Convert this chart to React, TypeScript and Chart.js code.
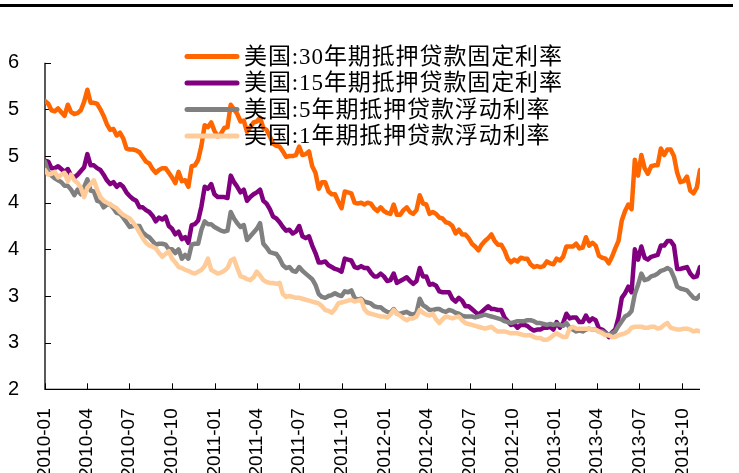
import { useEffect, useRef } from 'react';
import { Chart, registerables } from 'chart.js';

Chart.register(...registerables);

// Weekly observations, first week 2010-01-07, one value per week through 2013-11-14
const startDate = [2010, 1, 7];

const rate30 = [
  5.09, 5.06, 4.99, 4.98, 5.01, 4.97, 4.93, 5.05, 4.97, 4.95, 4.96, 4.99, 5.08, 5.21, 5.07, 5.07, 5.06, 5.00, 4.93, 4.84, 4.78, 4.79, 4.72, 4.75, 4.69, 4.58,
  4.57, 4.57, 4.56, 4.54, 4.49, 4.44, 4.42, 4.36, 4.32, 4.35, 4.37, 4.37, 4.32, 4.27, 4.21, 4.33, 4.23, 4.24, 4.17, 4.39, 4.40, 4.46, 4.61, 4.83, 4.81, 4.86,
  4.77, 4.71, 4.74, 4.80, 4.81, 5.05, 5.00, 4.95, 4.87, 4.88, 4.76, 4.81, 4.86, 4.87, 4.91, 4.80, 4.78, 4.71, 4.63, 4.61, 4.60, 4.55, 4.49, 4.50, 4.50, 4.51,
  4.60, 4.51, 4.52, 4.55, 4.39, 4.32, 4.15, 4.22, 4.22, 4.12, 4.09, 4.09, 4.01, 3.94, 4.12, 4.11, 4.10, 4.00, 3.99, 4.00, 3.98, 4.00, 3.99, 3.94, 3.91, 3.95,
  3.91, 3.89, 3.88, 3.98, 3.87, 3.87, 3.92, 3.95, 3.90, 3.88, 3.92, 4.08, 3.99, 3.98, 3.88, 3.90, 3.88, 3.84, 3.83, 3.79, 3.78, 3.75, 3.67, 3.71, 3.66, 3.66,
  3.62, 3.56, 3.53, 3.49, 3.55, 3.59, 3.62, 3.66, 3.59, 3.55, 3.55, 3.49, 3.40, 3.36, 3.39, 3.37, 3.41, 3.40, 3.40, 3.34, 3.31, 3.32, 3.31, 3.32, 3.37, 3.35,
  3.34, 3.40, 3.38, 3.42, 3.53, 3.53, 3.53, 3.56, 3.51, 3.52, 3.63, 3.54, 3.57, 3.54, 3.43, 3.41, 3.40, 3.35, 3.42, 3.51, 3.59, 3.81, 3.91, 3.98, 3.93, 4.46,
  4.29, 4.51, 4.37, 4.31, 4.39, 4.40, 4.40, 4.58, 4.51, 4.57, 4.57, 4.50, 4.32, 4.22, 4.23, 4.28, 4.13, 4.10, 4.16, 4.35,
];

const rate15 = [
  4.45, 4.44, 4.37, 4.37, 4.39, 4.36, 4.33, 4.36, 4.29, 4.27, 4.30, 4.34, 4.38, 4.52, 4.40, 4.40, 4.37, 4.35, 4.30, 4.24, 4.20, 4.22, 4.17, 4.20, 4.17, 4.11,
  4.07, 4.04, 4.02, 3.95, 3.95, 3.92, 3.90, 3.86, 3.80, 3.84, 3.82, 3.85, 3.75, 3.72, 3.66, 3.69, 3.61, 3.63, 3.57, 3.76, 3.77, 3.81, 3.96, 4.17, 4.15, 4.20,
  4.09, 4.06, 4.06, 4.06, 4.05, 4.29, 4.22, 4.17, 4.11, 4.14, 4.02, 4.06, 4.09, 4.11, 4.14, 4.02, 3.99, 3.93, 3.85, 3.83, 3.79, 3.74, 3.70, 3.71, 3.67, 3.69,
  3.75, 3.64, 3.62, 3.64, 3.54, 3.46, 3.36, 3.36, 3.37, 3.33, 3.31, 3.29, 3.28, 3.26, 3.40, 3.39, 3.38, 3.31, 3.30, 3.32, 3.30, 3.30, 3.25, 3.21, 3.21, 3.24,
  3.21, 3.16, 3.17, 3.24, 3.14, 3.16, 3.18, 3.20, 3.16, 3.13, 3.16, 3.30, 3.21, 3.21, 3.12, 3.13, 3.11, 3.05, 3.04, 3.04, 3.04, 2.97, 2.94, 2.98, 2.95, 2.89,
  2.89, 2.86, 2.83, 2.80, 2.83, 2.86, 2.89, 2.86, 2.86, 2.85, 2.85, 2.77, 2.73, 2.69, 2.70, 2.66, 2.69, 2.69, 2.68, 2.65, 2.63, 2.64, 2.64, 2.66, 2.66, 2.67,
  2.64, 2.72, 2.66, 2.71, 2.81, 2.76, 2.77, 2.77, 2.72, 2.72, 2.79, 2.73, 2.76, 2.74, 2.65, 2.64, 2.61, 2.56, 2.61, 2.64, 2.77, 2.98, 3.03, 3.10, 3.04, 3.50,
  3.39, 3.53, 3.41, 3.39, 3.42, 3.43, 3.44, 3.54, 3.54, 3.59, 3.59, 3.54, 3.29, 3.29, 3.30, 3.31, 3.24, 3.20, 3.21, 3.31,
];

const arm5 = [
  4.44, 4.33, 4.29, 4.26, 4.24, 4.22, 4.18, 4.18, 4.14, 4.08, 4.14, 4.09, 4.17, 4.25, 4.13, 4.12, 4.02, 4.01, 3.95, 3.98, 3.98, 3.94, 3.89, 3.88, 3.84, 3.79,
  3.74, 3.75, 3.75, 3.75, 3.68, 3.65, 3.63, 3.59, 3.55, 3.56, 3.56, 3.55, 3.50, 3.50, 3.46, 3.50, 3.40, 3.44, 3.40, 3.55, 3.56, 3.56, 3.71, 3.80, 3.77, 3.77,
  3.74, 3.72, 3.70, 3.69, 3.70, 3.90, 3.83, 3.78, 3.74, 3.76, 3.60, 3.64, 3.68, 3.72, 3.78, 3.56, 3.52, 3.47, 3.46, 3.45, 3.40, 3.33, 3.30, 3.31, 3.27, 3.26,
  3.31, 3.27, 3.24, 3.21, 3.18, 3.12, 3.02, 2.99, 2.98, 3.00, 3.01, 3.03, 3.01, 3.00, 3.05, 3.04, 3.06, 2.98, 2.96, 2.97, 2.94, 2.93, 2.92, 2.89, 2.88, 2.88,
  2.85, 2.83, 2.82, 2.86, 2.81, 2.81, 2.82, 2.83, 2.81, 2.80, 2.82, 2.97, 2.90, 2.88, 2.85, 2.85, 2.86, 2.86, 2.84, 2.83, 2.85, 2.84, 2.82, 2.81, 2.79, 2.78,
  2.78, 2.78, 2.77, 2.78, 2.79, 2.80, 2.79, 2.78, 2.77, 2.76, 2.75, 2.73, 2.72, 2.71, 2.72, 2.73, 2.73, 2.73, 2.74, 2.74, 2.73, 2.71, 2.71, 2.70, 2.69, 2.70,
  2.69, 2.70, 2.69, 2.68, 2.71, 2.66, 2.64, 2.62, 2.63, 2.62, 2.64, 2.65, 2.64, 2.64, 2.62, 2.62, 2.60, 2.58, 2.60, 2.62, 2.68, 2.73, 2.78, 2.80, 2.84, 3.02,
  3.12, 3.24, 3.17, 3.18, 3.21, 3.22, 3.24, 3.27, 3.28, 3.30, 3.28, 3.20, 3.10, 3.08, 3.07, 3.06, 3.02, 2.98, 2.97, 3.01,
];

const arm1 = [
  4.35, 4.30, 4.31, 4.33, 4.27, 4.30, 4.32, 4.23, 4.30, 4.24, 4.21, 4.16, 4.06, 4.16, 4.20, 4.24, 4.14, 4.06, 4.02, 4.00, 3.98, 3.96, 3.94, 3.90, 3.87, 3.85,
  3.83, 3.79, 3.74, 3.68, 3.62, 3.57, 3.54, 3.53, 3.51, 3.46, 3.42, 3.45, 3.48, 3.40, 3.36, 3.31, 3.30, 3.28, 3.27, 3.25, 3.24, 3.26, 3.28, 3.32, 3.40, 3.28,
  3.26, 3.24, 3.25, 3.27, 3.30, 3.38, 3.40, 3.30, 3.21, 3.20, 3.18, 3.17, 3.20, 3.26, 3.22, 3.17, 3.15, 3.14, 3.14, 3.13, 3.14, 3.02, 2.99, 3.00, 2.99, 2.98,
  2.98, 2.97, 2.96, 2.95, 2.94, 2.93, 2.92, 2.89, 2.85, 2.84, 2.82, 2.86, 2.92, 2.93, 2.94, 2.95, 2.96, 2.94, 2.95, 2.96, 2.86, 2.82, 2.81, 2.80, 2.79, 2.78,
  2.78, 2.77, 2.80, 2.85, 2.81, 2.79, 2.76, 2.74, 2.76, 2.76, 2.78, 2.85, 2.82, 2.80, 2.79, 2.81, 2.75, 2.71, 2.75, 2.78, 2.77, 2.76, 2.77, 2.78, 2.74, 2.71,
  2.70, 2.69, 2.68, 2.67, 2.66, 2.65, 2.66, 2.67, 2.64, 2.62, 2.62, 2.62, 2.61, 2.60, 2.60, 2.60, 2.59, 2.58, 2.58, 2.58, 2.56, 2.55, 2.55, 2.53, 2.53, 2.55,
  2.58, 2.60, 2.58, 2.56, 2.56, 2.65, 2.67, 2.65, 2.65, 2.65, 2.65, 2.65, 2.64, 2.64, 2.62, 2.60, 2.58, 2.58, 2.56, 2.56, 2.58, 2.59, 2.60, 2.62, 2.66, 2.67,
  2.67, 2.67, 2.66, 2.66, 2.67, 2.67, 2.65, 2.66, 2.69, 2.71, 2.66, 2.65, 2.64, 2.64, 2.65, 2.65, 2.64, 2.62, 2.63, 2.62,
];

const seriesNames = [
  '美国:30年期抵押贷款固定利率',
  '美国:15年期抵押贷款固定利率',
  '美国:5年期抵押贷款浮动利率',
  '美国:1年期抵押贷款浮动利率',
];
const seriesColors = ['#FF6600', '#800080', '#808080', '#FFCC99'];

const xTickLabels = [
  '2010-01', '2010-04', '2010-07', '2010-10',
  '2011-01', '2011-04', '2011-07', '2011-10',
  '2012-01', '2012-04', '2012-07', '2012-10',
  '2013-01', '2013-04', '2013-07', '2013-10',
];
const yMin = 2;
const yMax = 5.5;
const yStep = 0.5;

const DAY = 86400000;
const startMs = Date.UTC(startDate[0], startDate[1] - 1, startDate[2]);
const tickDays = xTickLabels.map((lab) => {
  const [yy, mm] = lab.split('-').map(Number);
  return Math.round((Date.UTC(yy, mm - 1, startDate[2]) - startMs) / DAY);
});

const W = 739;
const H = 480;
const AXIS_LEFT = 45;
const AXIS_BOTTOM = 389.3;
const PLOT_TOP = 62.7;
const PLOT_RIGHT = 700;

const decorPlugin = {
  id: 'decor',
  beforeDatasetsDraw(chart: any) {
    const { ctx, chartArea, scales } = chart;
    ctx.save();
    ctx.strokeStyle = '#000';
    ctx.lineWidth = 1.3;
    ctx.beginPath();
    ctx.moveTo(chartArea.left, chartArea.top);
    ctx.lineTo(chartArea.left, chartArea.bottom);
    ctx.lineTo(chartArea.right, chartArea.bottom);
    ctx.stroke();
    ctx.lineWidth = 1;
    ctx.beginPath();
    scales.y.ticks.forEach((t: any) => {
      const y = Math.round(scales.y.getPixelForValue(t.value)) + 0.5;
      ctx.moveTo(chartArea.left, y);
      ctx.lineTo(chartArea.left + 6, y);
    });
    scales.x.ticks.forEach((t: any) => {
      const x = Math.round(scales.x.getPixelForValue(t.value)) + 0.5;
      ctx.moveTo(x, chartArea.bottom);
      ctx.lineTo(x, chartArea.bottom - 6);
    });
    ctx.stroke();
    ctx.restore();
  },
  afterDraw(chart: any) {
    const { ctx } = chart;
    ctx.save();
    const rowY = [56.5, 83, 109.5, 136];
    seriesNames.forEach((name, i) => {
      const y = rowY[i];
      ctx.strokeStyle = seriesColors[i];
      ctx.lineWidth = 5;
      ctx.lineCap = 'round';
      ctx.beginPath();
      ctx.moveTo(187, y);
      ctx.lineTo(237, y);
      ctx.stroke();
      ctx.fillStyle = '#000';
      ctx.font = '23px "Liberation Serif", "Noto Sans CJK SC", serif';
      (ctx as any).letterSpacing = '0.9px';
      ctx.textBaseline = 'middle';
      ctx.textAlign = 'left';
      ctx.fillText(name, 244, y + 1);
    });
    ctx.restore();
  },
};

export default function App() {
  const canvasRef = useRef<HTMLCanvasElement | null>(null);

  useEffect(() => {
    document.body.style.margin = '0';
    const canvas = canvasRef.current;
    if (!canvas) return;
    const allSeries = [rate30, rate15, arm5, arm1];
    const lastDay = (rate30.length - 1) * 7;
    const chart = new Chart(canvas, {
      type: 'line',
      data: {
        datasets: allSeries.map((vals, k) => ({
          label: seriesNames[k],
          data: vals.map((v, i) => ({ x: i * 7, y: v })),
          borderColor: seriesColors[k],
          backgroundColor: seriesColors[k],
          borderWidth: 4.5,
          pointRadius: 0,
          pointHoverRadius: 0,
          tension: 0,
          borderJoinStyle: 'round',
          borderCapStyle: 'round',
          fill: false,
          order: 3 - k,
        })),
      },
      options: {
        animation: false,
        responsive: false,
        devicePixelRatio: window.devicePixelRatio || 1,
        layout: { padding: { left: 0, right: W - PLOT_RIGHT, top: PLOT_TOP, bottom: 0 } },
        plugins: {
          legend: { display: false },
          tooltip: { enabled: false },
        },
        scales: {
          x: {
            type: 'linear',
            min: 0,
            max: lastDay,
            grid: { display: false },
            border: { display: false },
            afterBuildTicks: (axis: any) => {
              axis.ticks = tickDays.map((v) => ({ value: v }));
            },
            afterFit: (axis: any) => {
              axis.height = H - AXIS_BOTTOM;
            },
            ticks: {
              autoSkip: false,
              minRotation: 90,
              maxRotation: 90,
              padding: 11,
              color: '#000',
              font: { family: '"Liberation Sans", Arial, sans-serif', size: 19 },
              callback: (value: any) => {
                const idx = tickDays.indexOf(Number(value));
                return idx >= 0 ? xTickLabels[idx] : '';
              },
            },
          },
          y: {
            type: 'linear',
            min: yMin,
            max: yMax,
            grid: { display: false },
            border: { display: false },
            afterFit: (axis: any) => {
              axis.width = AXIS_LEFT;
            },
            ticks: {
              stepSize: yStep,
              padding: 18,
              color: '#000',
              font: { family: '"Liberation Sans", Arial, sans-serif', size: 20 },
              callback: (value: any) => String(Math.round(Number(value))),
            },
          },
        },
      } as any,
      plugins: [decorPlugin],
    });
    return () => chart.destroy();
  }, []);

  return (
    <div
      style={{
        position: 'fixed',
        left: 0,
        top: 0,
        width: W,
        height: 473,
        overflow: 'hidden',
        background: '#fff',
      }}
    >
      <canvas
        ref={canvasRef}
        width={W}
        height={H}
        style={{ position: 'absolute', left: 0, top: 0, width: W, height: H }}
      />
      <div
        style={{
          position: 'absolute',
          left: 0,
          top: 4,
          width: 733,
          height: 3,
          background: '#000',
        }}
      />
    </div>
  );
}
